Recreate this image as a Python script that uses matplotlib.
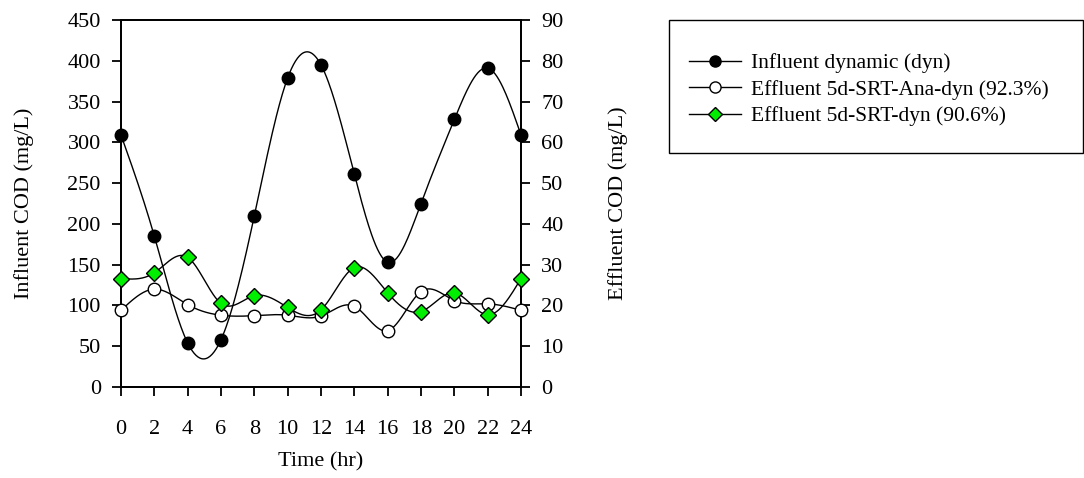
import numpy as np
import matplotlib
matplotlib.use("Agg")
import matplotlib.pyplot as plt
from matplotlib.patches import Rectangle

plt.rcParams["font.family"] = ["Liberation Serif", "DejaVu Serif"]

time_hr = [0, 2, 4, 6, 8, 10, 12, 14, 16, 18, 20, 22, 24]
influent = [309, 185, 54, 58, 210, 379, 395, 261, 153, 225, 328, 391, 309]
eff_ana = [18.8, 24.0, 20.2, 17.6, 17.5, 17.6, 17.4, 19.8, 13.8, 23.4, 21.2, 20.4, 18.8]
eff_srt = [26.6, 28.0, 31.8, 20.5, 22.4, 19.5, 18.9, 29.3, 23.1, 18.5, 23.1, 17.7, 26.6]

labels = ["Influent dynamic (dyn)",
          "Effluent 5d-SRT-Ana-dyn (92.3%)",
          "Effluent 5d-SRT-dyn (90.6%)"]


def natural_spline(x, y, n=400):
    # natural cubic spline, no scipy needed
    x = np.asarray(x, float)
    y = np.asarray(y, float)
    k = len(x)
    h = np.diff(x)
    A = np.zeros((k, k))
    b = np.zeros(k)
    A[0, 0] = A[-1, -1] = 1
    for i in range(1, k - 1):
        A[i, i - 1] = h[i - 1]
        A[i, i] = 2 * (h[i - 1] + h[i])
        A[i, i + 1] = h[i]
        b[i] = 3 * ((y[i + 1] - y[i]) / h[i] - (y[i] - y[i - 1]) / h[i - 1])
    c = np.linalg.solve(A, b)
    xs = np.linspace(x[0], x[-1], n)
    idx = np.clip(np.searchsorted(x, xs) - 1, 0, k - 2)
    hi = h[idx]
    bb = (y[idx + 1] - y[idx]) / hi - hi * (2 * c[idx] + c[idx + 1]) / 3
    dd = (c[idx + 1] - c[idx]) / (3 * hi)
    dx = xs - x[idx]
    ys = y[idx] + bb * dx + c[idx] * dx ** 2 + dd * dx ** 3
    return xs, ys


fig = plt.figure(figsize=(10.84, 4.78), dpi=100)
ax1 = fig.add_axes([121 / 1084, 1 - 387 / 478, 400 / 1084, 367 / 478])
ax2 = ax1.twinx()

xs, ys = natural_spline(time_hr, influent)
ax1.plot(xs, ys, color="black", lw=1)
ax1.plot(time_hr, influent, "o", color="black", ms=9, mec="black", clip_on=False, zorder=5)

xs, ys = natural_spline(time_hr, eff_ana)
ax2.plot(xs, ys, color="black", lw=1)
ax2.plot(time_hr, eff_ana, "o", mfc="white", mec="black", ms=9, mew=1, clip_on=False, zorder=5)

xs, ys = natural_spline(time_hr, eff_srt)
ax2.plot(xs, ys, color="black", lw=1)
ax2.plot(time_hr, eff_srt, "D", mfc="#00ee00", mec="black", ms=8.5, mew=1, clip_on=False, zorder=5)

ax1.set_xlim(0, 24)
ax1.set_ylim(0, 450)
ax2.set_ylim(0, 90)
ax1.set_xticks(time_hr)
ax1.set_yticks(range(0, 451, 50))
ax2.set_yticks(range(0, 91, 10))
for ax in (ax1, ax2):
    ax.tick_params(direction="out", length=6.5, width=1.3, labelsize=16, pad=8)
    for s in ax.spines.values():
        s.set_linewidth(1.3)
ax1.tick_params(axis="x", pad=17)

ax1.set_xlabel("Time (hr)", fontsize=16, labelpad=10)
ax1.set_ylabel("Influent COD (mg/L)", fontsize=16, labelpad=24)
ax2.set_ylabel("Effluent COD (mg/L)", fontsize=16, labelpad=32)

# legend with its own box
fig.patches.append(Rectangle((669 / 1084, 1 - 153 / 478), 414 / 1084, 133 / 478,
                             transform=fig.transFigure, fill=False,
                             edgecolor="black", lw=1))
handles = [
    plt.Line2D([], [], color="black", lw=1, marker="o", mfc="black", mec="black", ms=8),
    plt.Line2D([], [], color="black", lw=1, marker="o", mfc="white", mec="black", ms=8),
    plt.Line2D([], [], color="black", lw=1, marker="D", mfc="#00ee00", mec="black", ms=7.5),
]
fig.legend(handles, labels, loc="upper left", bbox_to_anchor=(689 / 1084, 1 - 53 / 478),
           frameon=False, fontsize=15.5, handlelength=2.4, handletextpad=0.5,
           labelspacing=0.3, borderpad=0, borderaxespad=0)

fig.savefig("out.png", dpi=100)
